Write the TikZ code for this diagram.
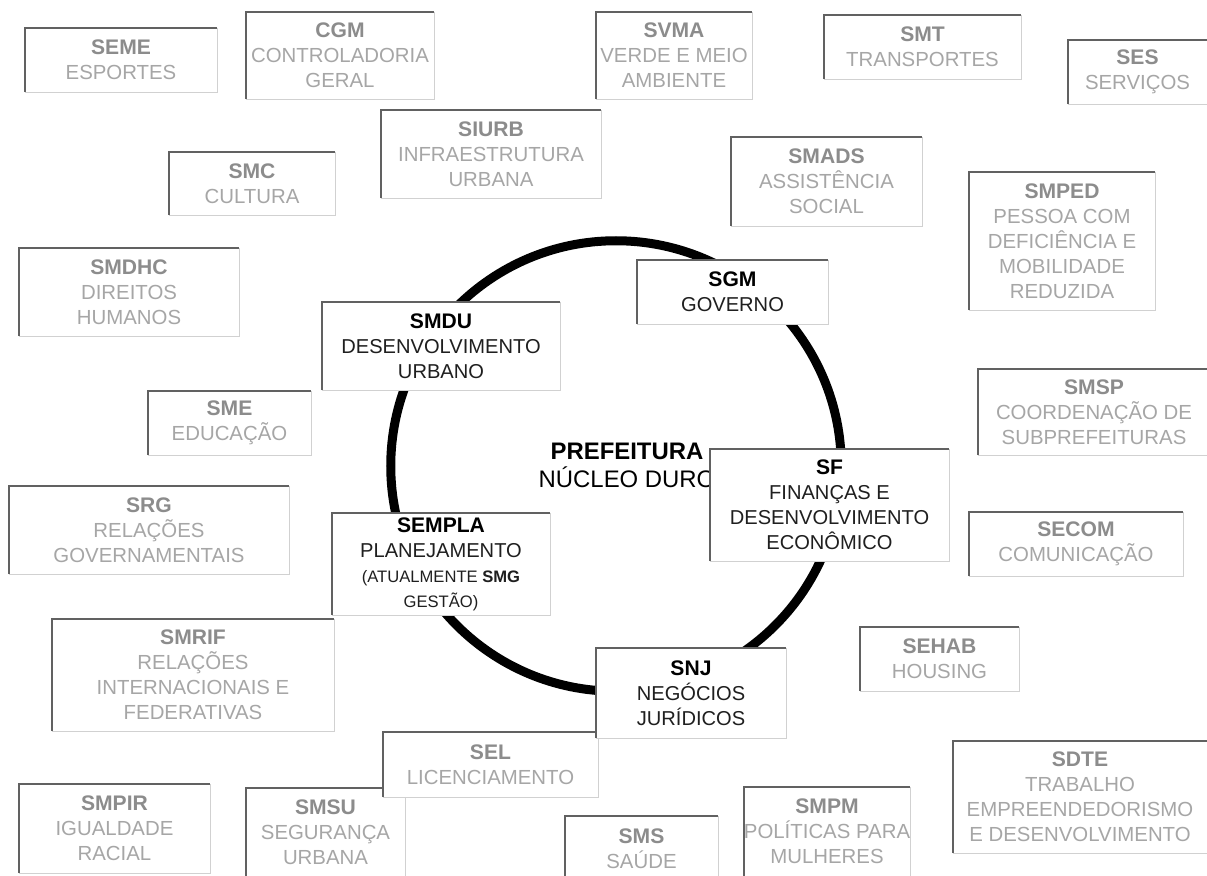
\documentclass[tikz,border=0pt]{standalone}
\usepackage{fontspec}
\setmainfont{Liberation Sans}
\definecolor{hdgray}{HTML}{8C8C8C}
\definecolor{txgray}{HTML}{A6A6A6}
\newcommand{\sigla}[1]{{\bfseries\fontsize{15}{17.8}\selectfont\color{hdcol}#1}}
\newcommand{\smallln}[1]{{\fontsize{11.8}{14}\selectfont #1}}
\begin{document}
\begin{tikzpicture}[x=0.025cm, y=-0.025cm,
    secbox/.style={draw=black!18, line width=0.7pt, fill=white, inner sep=0pt, outer sep=0pt,
        align=center, text=txgray, font=\fontsize{14.5}{17.8}\selectfont,
        execute at begin node={\colorlet{hdcol}{hdgray}},
        append after command={(\tikzlastnode.south west) edge[darkedge] (\tikzlastnode.north east)}},
    corebox/.style={secbox, text=black!88, font=\fontsize{14.3}{17.8}\selectfont,
        execute at begin node={\colorlet{hdcol}{black}}},
    darkedge/.style={draw=black!62, line width=1.1pt, fill=none, to path={|- (\tikztotarget)}},
    sz/.style 2 args={minimum width=#1*0.025cm, minimum height=#2*0.025cm}]
    \useasboundingbox (0,0) rectangle (1207,875);
    \clip (0,0) rectangle (1207,875);
    % the ring
    \draw [line width=6.4pt] (616,466) circle [radius=5.63cm];
    \node [align=center, font=\fontsize{17}{20}\selectfont] (nucleo) at (627,465)
        {\textbf{PREFEITURA}\\NÚCLEO DURO};
    % outer secretarias
    \node [secbox, sz={192}{64}] (seme) at (121,60) {\sigla{SEME}\\ESPORTES};
    \node [secbox, sz={188}{87}] (cgm) at (340,55.5) {\sigla{CGM}\\CONTROLADORIA\\GERAL};
    \node [secbox, sz={156}{87}] (svma) at (674,55.5) {\sigla{SVMA}\\VERDE E MEIO\\AMBIENTE};
    \node [secbox, sz={197}{64}] (smt) at (922.5,47) {\sigla{SMT}\\TRANSPORTES};
    \node [secbox, sz={139}{64}] (ses) at (1137.5,72) {\sigla{SES}\\SERVIÇOS};
    \node [secbox, sz={220}{88}] (siurb) at (491,154) {\sigla{SIURB}\\INFRAESTRUTURA\\URBANA};
    \node [secbox, sz={166}{63}] (smc) at (252,183.5) {\sigla{SMC}\\CULTURA};
    \node [secbox, sz={191}{89}] (smads) at (826.5,181.5) {\sigla{SMADS}\\ASSISTÊNCIA\\SOCIAL};
    \node [secbox, sz={186}{138}] (smped) at (1062,241)
        {\sigla{SMPED}\\PESSOA COM\\DEFICIÊNCIA E\\MOBILIDADE\\REDUZIDA};
    \node [secbox, sz={220}{88}] (smdhc) at (129,292) {\sigla{SMDHC}\\DIREITOS\\HUMANOS};
    \node [secbox, sz={163}{64}] (sme) at (229.5,423) {\sigla{SME}\\EDUCAÇÃO};
    \node [secbox, sz={232}{86}] (smsp) at (1094,412) {\sigla{SMSP}\\COORDENAÇÃO DE\\SUBPREFEITURAS};
    \node [secbox, sz={280}{88}] (srg) at (149,530) {\sigla{SRG}\\RELAÇÕES\\GOVERNAMENTAIS};
    \node [secbox, sz={214}{64}] (secom) at (1076,544) {\sigla{SECOM}\\COMUNICAÇÃO};
    \node [secbox, sz={282}{112}] (smrif) at (193,675)
        {\sigla{SMRIF}\\RELAÇÕES\\INTERNACIONAIS E\\FEDERATIVAS};
    \node [secbox, sz={159}{64}] (sehab) at (939.5,659) {\sigla{SEHAB}\\HOUSING};
    \node [secbox, sz={191}{89}] (smpir) at (114.5,828.5) {\sigla{SMPIR}\\IGUALDADE\\RACIAL};
    \node [secbox, sz={159}{88}] (smsu) at (325.5,832) {\sigla{SMSU}\\SEGURANÇA\\URBANA};
    \node [secbox, sz={215}{65}] (sel) at (490.5,764.5) {\sigla{SEL}\\LICENCIAMENTO};
    \node [secbox, sz={153}{66}] (sms) at (641.5,849) {\sigla{SMS}\\SAÚDE};
    \node [secbox, sz={164}{89}] (smpm) at (827,831.5) {\sigla{SMPM}\\POLÍTICAS PARA\\MULHERES};
    \node [secbox, sz={254}{112}] (sdte) at (1080,797)
        {\sigla{SDTE}\\TRABALHO\\EMPREENDEDORISMO\\E DESENVOLVIMENTO};
    % nucleo duro
    \node [corebox, sz={191}{64}] (sgm) at (732.5,292) {\sigla{SGM}\\GOVERNO};
    \node [corebox, sz={238}{88}] (smdu) at (441,346) {\sigla{SMDU}\\DESENVOLVIMENTO\\URBANO};
    \node [corebox, sz={239}{112}] (sf) at (829.5,505)
        {\sigla{SF}\\FINANÇAS E\\DESENVOLVIMENTO\\ECONÔMICO};
    \node [corebox, sz={218}{102}] (sempla) at (441,564)
        {\sigla{SEMPLA}\\PLANEJAMENTO\\\smallln{(ATUALMENTE \textbf{SMG}}\\\smallln{GESTÃO)}};
    \node [corebox, sz={190}{90}] (snj) at (691,693) {\sigla{SNJ}\\NEGÓCIOS\\JURÍDICOS};
\end{tikzpicture}
\end{document}
